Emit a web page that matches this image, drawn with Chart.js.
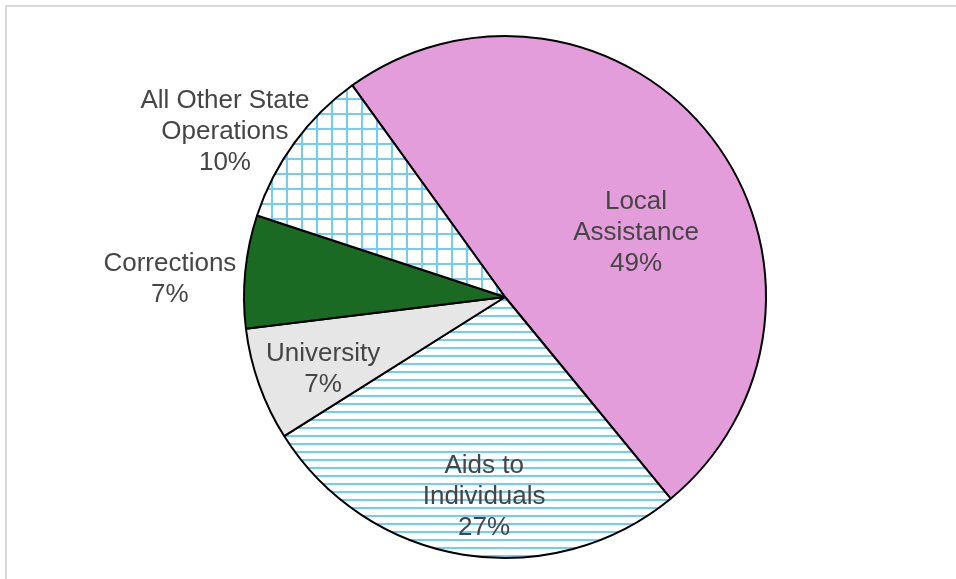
<!DOCTYPE html>
<html>
<head>
<meta charset="utf-8">
<script src="https://cdn.jsdelivr.net/npm/chart.js@4/dist/chart.umd.min.js"></script>
<style>
  html, body { margin: 0; padding: 0; background: #ffffff; }
  #wrap { width: 956px; height: 579px; position: relative; }
</style>
</head>
<body>
<div id="wrap"><canvas id="c" width="956" height="579"></canvas></div>
<script>
// Spending shares by program area (percent of total)
const categories = ['Local Assistance', 'Aids to Individuals', 'University', 'Corrections', 'All Other State Operations'];
const shares = [49, 27, 7, 7, 10];
const labelLines = [
  ['Local', 'Assistance'],
  ['Aids to', 'Individuals'],
  ['University'],
  ['Corrections'],
  ['All Other State', 'Operations']
];

// Label anchors, as offsets from the pie centre in units of the radius
const labelSpots = [
  [0.502, -0.253],
  [-0.080, 0.759],
  [-0.697, 0.268],
  [-1.284, -0.075],
  [-1.073, -0.640]
];

const HATCH = '#72cdf2';
const canvas = document.getElementById('c');
const ctx = canvas.getContext('2d');

function makeTile(w, h, paint) {
  const t = document.createElement('canvas');
  t.width = w; t.height = h;
  const g = t.getContext('2d');
  g.fillStyle = '#ffffff';
  g.fillRect(0, 0, w, h);
  g.fillStyle = HATCH;
  paint(g);
  return t;
}

// square grid hatch
const gridPat = ctx.createPattern(makeTile(15, 15, g => {
  g.fillRect(0, 0, 15, 2);
  g.fillRect(0, 0, 2, 15);
}), 'repeat');
gridPat.setTransform(new DOMMatrix().translate(1, 8));

// horizontal line hatch
const linePat = ctx.createPattern(makeTile(8, 8, g => {
  g.fillRect(0, 0, 8, 2);
}), 'repeat');
linePat.setTransform(new DOMMatrix().translate(0, 3));

const fills = ['#e39ddb', linePat, '#e6e6e6', '#1b6a23', gridPat];

const frame = {
  id: 'frame',
  beforeDraw(chart) {
    const c = chart.ctx;
    c.save();
    c.fillStyle = '#d9d9d9';
    c.fillRect(5, 5, chart.width - 5, 2);
    c.fillRect(5, 5, 2, chart.height - 5);
    c.restore();
  }
};

const sliceLabels = {
  id: 'sliceLabels',
  afterDatasetsDraw(chart) {
    const arcs = chart.getDatasetMeta(0).data;
    const c = chart.ctx;
    c.save();
    c.font = '26px "Liberation Sans", Arial, sans-serif';
    c.fillStyle = '#454545';
    c.textAlign = 'center';
    c.textBaseline = 'middle';
    const lh = 31;
    arcs.forEach((arc, i) => {
      const R = arc.outerRadius;
      const cx = arc.x + labelSpots[i][0] * R;
      const cy = arc.y + labelSpots[i][1] * R + 2;
      const lines = labelLines[i].concat([shares[i] + '%']);
      const top = cy - (lines.length - 1) * lh / 2;
      lines.forEach((s, k) => c.fillText(s, cx, top + k * lh));
    });
    c.restore();
  }
};

new Chart(canvas, {
  type: 'pie',
  data: {
    labels: categories,
    datasets: [{
      data: shares,
      backgroundColor: fills,
      borderColor: '#000000',
      borderWidth: 2
    }]
  },
  options: {
    responsive: false,
    animation: false,
    rotation: -35.8,
    radius: 261,
    layout: { padding: { left: 54, right: 0, top: 20, bottom: 5 } },
    plugins: {
      legend: { display: false },
      tooltip: { enabled: false }
    }
  },
  plugins: [frame, sliceLabels]
});
</script>
</body>
</html>
